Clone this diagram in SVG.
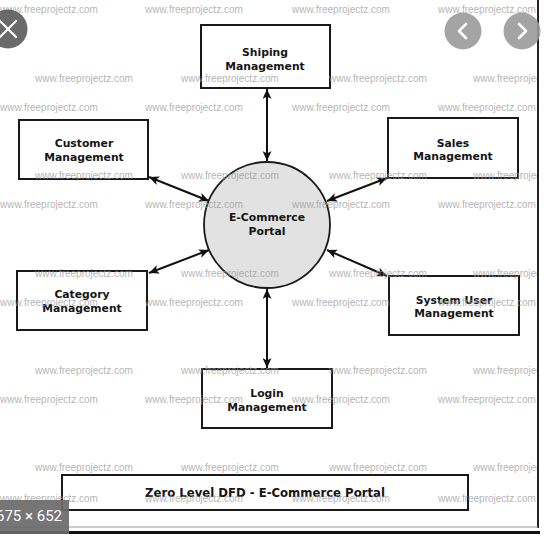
<svg xmlns="http://www.w3.org/2000/svg" width="554" height="555" viewBox="0 0 554 555">
<style>
.box{fill:#fff;stroke:#1a1a1a;stroke-width:2}
.lbl{font-family:"DejaVu Sans",sans-serif;font-weight:bold;font-size:10.8px;fill:#151515;text-anchor:middle}
.conn{stroke:#111;stroke-width:2;fill:none;marker-start:url(#ah);marker-end:url(#ah)}
.wm{font-family:"Liberation Sans",Arial,sans-serif;font-size:10px;fill:#999;fill-opacity:0.75}
</style>
<defs>
<marker id="ah" viewBox="0 0 10 9" refX="10" refY="4.5" markerWidth="10" markerHeight="9" markerUnits="userSpaceOnUse" orient="auto-start-reverse">
<path d="M0,0 L10,4.5 L0,9 L2.5,4.5 z" fill="#111"/>
</marker>
<clipPath id="wmclip"><rect x="0" y="0" width="537" height="526"/></clipPath>
</defs>
<rect x="0" y="0" width="554" height="555" fill="#fff"/>
<g id="frame">
<line x1="538" y1="0" x2="538" y2="528" stroke="#222" stroke-width="2"/>
<line x1="0" y1="527" x2="538" y2="527" stroke="#999" stroke-width="1"/>
<line x1="0" y1="532.5" x2="540" y2="532.5" stroke="#111" stroke-width="3"/>
</g>
<g id="connectors">
<line class="conn" x1="267" y1="89" x2="267" y2="161"/>
<line class="conn" x1="149" y1="177" x2="209" y2="201"/>
<line class="conn" x1="149" y1="273" x2="209" y2="250"/>
<line class="conn" x1="387" y1="178" x2="327" y2="201"/>
<line class="conn" x1="327" y1="250" x2="387" y2="276"/>
<line class="conn" x1="267" y1="289" x2="267" y2="368"/>
</g>
<g id="portal">
<circle cx="267" cy="225" r="63" fill="#e2e2e2" stroke="#1a1a1a" stroke-width="1.8"/>
<text class="lbl" x="267" y="221">E-Commerce</text>
<text class="lbl" x="267" y="235">Portal</text>
</g>
<g id="shiping">
<rect class="box" x="201" y="25" width="129" height="63"/>
<text class="lbl" x="265" y="56">Shiping</text>
<text class="lbl" x="265" y="70">Management</text>
</g>
<g id="customer">
<rect class="box" x="19" y="120" width="129" height="59"/>
<text class="lbl" x="84" y="147">Customer</text>
<text class="lbl" x="84" y="161">Management</text>
</g>
<g id="category">
<rect class="box" x="17" y="271" width="130" height="59"/>
<text class="lbl" x="82" y="298">Category</text>
<text class="lbl" x="82" y="312">Management</text>
</g>
<g id="login">
<rect class="box" x="202" y="369" width="130" height="59"/>
<text class="lbl" x="267" y="397">Login</text>
<text class="lbl" x="267" y="411">Management</text>
</g>
<g id="sales">
<rect class="box" x="388" y="118" width="130" height="60"/>
<text class="lbl" x="453" y="147">Sales</text>
<text class="lbl" x="453" y="160">Management</text>
</g>
<g id="systemuser">
<rect class="box" x="389" y="276" width="130" height="59"/>
<text class="lbl" x="454" y="304">System User</text>
<text class="lbl" x="454" y="317">Management</text>
</g>
<g id="title">
<rect class="box" x="62" y="475" width="406" height="35"/>
<text class="lbl" x="265" y="497" style="font-size:11.7px">Zero Level DFD - E-Commerce Portal</text>
</g>
<g id="watermarks" clip-path="url(#wmclip)">
<text class="wm" x="0" y="12.5">www.freeprojectz.com</text>
<text class="wm" x="145" y="12.5">www.freeprojectz.com</text>
<text class="wm" x="292" y="12.5">www.freeprojectz.com</text>
<text class="wm" x="438" y="12.5">www.freeprojectz.com</text>
<text class="wm" x="35" y="81.5">www.freeprojectz.com</text>
<text class="wm" x="181" y="81.5">www.freeprojectz.com</text>
<text class="wm" x="329" y="81.5">www.freeprojectz.com</text>
<text class="wm" x="473" y="81.5">www.freeprojectz.com</text>
<text class="wm" x="0" y="110.5">www.freeprojectz.com</text>
<text class="wm" x="145" y="110.5">www.freeprojectz.com</text>
<text class="wm" x="292" y="110.5">www.freeprojectz.com</text>
<text class="wm" x="438" y="110.5">www.freeprojectz.com</text>
<text class="wm" x="35" y="178.5">www.freeprojectz.com</text>
<text class="wm" x="181" y="178.5">www.freeprojectz.com</text>
<text class="wm" x="329" y="178.5">www.freeprojectz.com</text>
<text class="wm" x="473" y="178.5">www.freeprojectz.com</text>
<text class="wm" x="0" y="207.5">www.freeprojectz.com</text>
<text class="wm" x="145" y="207.5">www.freeprojectz.com</text>
<text class="wm" x="292" y="207.5">www.freeprojectz.com</text>
<text class="wm" x="438" y="207.5">www.freeprojectz.com</text>
<text class="wm" x="35" y="276.5">www.freeprojectz.com</text>
<text class="wm" x="181" y="276.5">www.freeprojectz.com</text>
<text class="wm" x="329" y="276.5">www.freeprojectz.com</text>
<text class="wm" x="473" y="276.5">www.freeprojectz.com</text>
<text class="wm" x="0" y="305.5">www.freeprojectz.com</text>
<text class="wm" x="145" y="305.5">www.freeprojectz.com</text>
<text class="wm" x="292" y="305.5">www.freeprojectz.com</text>
<text class="wm" x="438" y="305.5">www.freeprojectz.com</text>
<text class="wm" x="35" y="373.5">www.freeprojectz.com</text>
<text class="wm" x="181" y="373.5">www.freeprojectz.com</text>
<text class="wm" x="329" y="373.5">www.freeprojectz.com</text>
<text class="wm" x="473" y="373.5">www.freeprojectz.com</text>
<text class="wm" x="0" y="402.5">www.freeprojectz.com</text>
<text class="wm" x="145" y="402.5">www.freeprojectz.com</text>
<text class="wm" x="292" y="402.5">www.freeprojectz.com</text>
<text class="wm" x="438" y="402.5">www.freeprojectz.com</text>
<text class="wm" x="35" y="470.5">www.freeprojectz.com</text>
<text class="wm" x="181" y="470.5">www.freeprojectz.com</text>
<text class="wm" x="329" y="470.5">www.freeprojectz.com</text>
<text class="wm" x="473" y="470.5">www.freeprojectz.com</text>
<text class="wm" x="0" y="501.5">www.freeprojectz.com</text>
<text class="wm" x="145" y="501.5">www.freeprojectz.com</text>
<text class="wm" x="292" y="501.5">www.freeprojectz.com</text>
<text class="wm" x="438" y="501.5">www.freeprojectz.com</text>
</g>
<g id="overlay">
<circle cx="8" cy="29" r="19.5" fill="#5a5a5a" fill-opacity="0.9"/>
<path d="M0,21 L16,37 M16,21 L0,37" stroke="#fff" stroke-width="2.2" stroke-linecap="round"/>
<circle cx="463" cy="31" r="18.5" fill="#9a9a9a" fill-opacity="0.9"/>
<path d="M466,24 L459,31 L466,38" stroke="#fff" stroke-width="2.6" fill="none" stroke-linecap="round" stroke-linejoin="round"/>
<circle cx="522" cy="31" r="18.5" fill="#9a9a9a" fill-opacity="0.9"/>
<path d="M519,24 L526,31 L519,38" stroke="#fff" stroke-width="2.6" fill="none" stroke-linecap="round" stroke-linejoin="round"/>
<rect x="0" y="500" width="69" height="34" fill="#6a6a6a" fill-opacity="0.92"/>
<text x="-4" y="521" font-family="Roboto, 'Liberation Sans', sans-serif" font-size="15" fill="#fff">675 × 652</text>
</g>
</svg>
